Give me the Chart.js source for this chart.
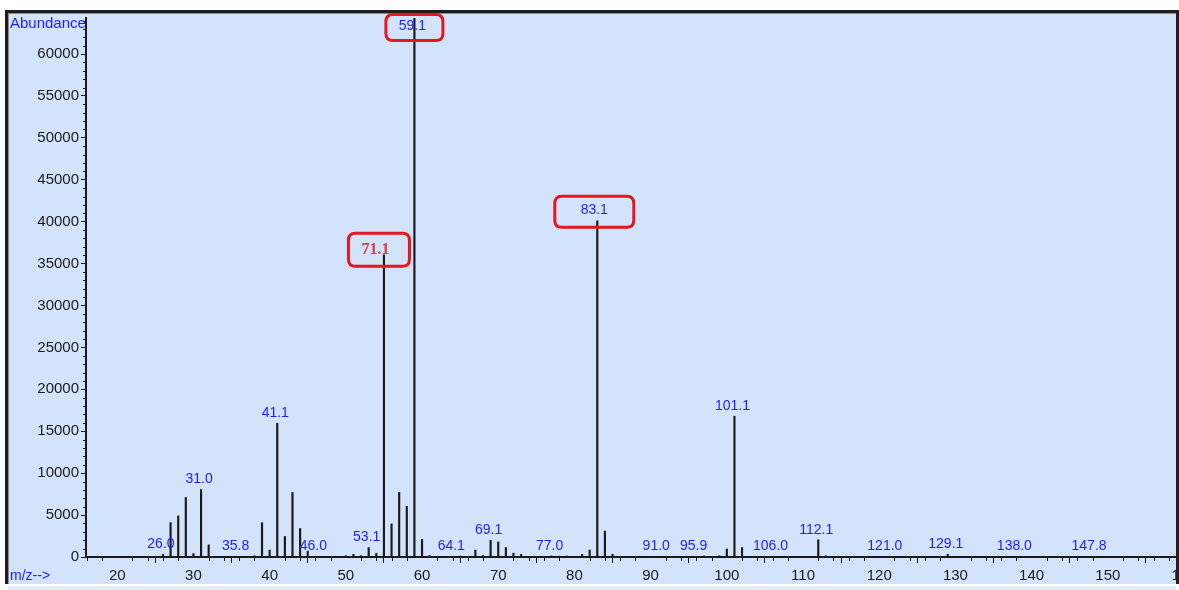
<!DOCTYPE html>
<html>
<head>
<meta charset="utf-8">
<script src="https://cdn.jsdelivr.net/npm/chart.js@4.4.1/dist/chart.umd.min.js"></script>
<style>
  html, body { margin: 0; padding: 0; background: #ffffff; width: 1179px; height: 590px; overflow: hidden; }
  #frame {
    position: absolute; left: 5px; top: 10px; width: 1174px; height: 574px;
    box-sizing: border-box; border: 3px solid #1e1e1e; border-bottom: none;
    background: #d3e3fb; overflow: hidden;
    box-shadow: inset 1px 1px 0 #8c8c8c;
  }
  #strip { position: absolute; left: 8px; top: 586px; width: 1168px; height: 4px; background: #e3ebf7; }
  #spectrum { position: absolute; left: 0; top: 0; }
</style>
</head>
<body>
<div id="frame"><canvas id="spectrum" width="1196" height="571"></canvas></div>
<div id="strip"></div>
<script>
// Mass spectrum: m/z of each ion and its abundance
const mzValues = [
  26, 27, 28, 29, 30, 31, 32, 35.8, 38, 39, 40, 41, 42, 43, 44, 45, 46,
  50, 51, 52, 53, 54, 55, 56, 57, 58, 59, 60, 61, 64.1, 65, 67, 68, 69, 70,
  71, 72, 73, 77, 78, 79, 81, 82, 83, 84, 85, 91, 95.9, 97, 99, 100, 101,
  102, 106, 112, 113, 121, 129, 138, 147.8
];
const abundance = [
  300, 4100, 4900, 7100, 400, 8050, 1450, 60, 150, 4100, 820, 15950, 2450, 7700, 3400, 700, 80,
  150, 320, 150, 1120, 450, 36050, 3950, 7700, 6050, 64300, 2120, 180, 80, 120, 820, 180, 1980, 1800,
  1120, 450, 320, 120, 100, 120, 320, 830, 40100, 3100, 320, 80, 80, 120, 150, 950, 16800,
  1120, 80, 2050, 150, 80, 320, 80, 80
];

// Peak annotations: which peak carries which printed label
const labelMz = [26, 31, 35.8, 41, 46, 53, 55, 59, 64.1, 69, 77, 83, 91, 95.9, 101, 106, 112, 121, 129, 138, 147.8];
const labelText = ['26.0', '31.0', '35.8', '41.1', '46.0', '53.1', '71.1', '59.1', '64.1', '69.1', '77.0',
                   '83.1', '91.0', '95.9', '101.1', '106.0', '112.1', '121.0', '129.1', '138.0', '147.8'];

// Axis tick labels
const xTickValues = [20, 30, 40, 50, 60, 70, 80, 90, 100, 110, 120, 130, 140, 150, 160];
const yTickValues = [0, 5000, 10000, 15000, 20000, 25000, 30000, 35000, 40000, 45000, 50000, 55000, 60000];

const xTitle = 'm/z-->';
const yTitle = 'Abundance';

// Look of the highlighted labels (framed in red)
const labelLook = {
  '59.1': { box: { w: 57, h: 26, dx: 2, dy: 1.5 } },
  '71.1': { color: '#e23a3c', font: 'bold 16px "Liberation Serif"', dx: -8.5, dy: -5,
            box: { w: 61, h: 33, dx: 3.5, dy: 0 } },
  '83.1': { dx: -3, dy: -10.5, box: { w: 79, h: 31, dx: 0, dy: 1.5 } }
};

const FONT = '"Liberation Sans", Arial, sans-serif';
const BLUE = '#1e1eff';

function roundRect(ctx, x, y, w, h, r) {
  ctx.beginPath();
  ctx.moveTo(x + r, y);
  ctx.lineTo(x + w - r, y);
  ctx.quadraticCurveTo(x + w, y, x + w, y + r);
  ctx.lineTo(x + w, y + h - r);
  ctx.quadraticCurveTo(x + w, y + h, x + w - r, y + h);
  ctx.lineTo(x + r, y + h);
  ctx.quadraticCurveTo(x, y + h, x, y + h - r);
  ctx.lineTo(x, y + r);
  ctx.quadraticCurveTo(x, y, x + r, y);
  ctx.closePath();
}

const minorTicks = {
  id: 'minorTicks',
  afterDraw(chart) {
    const { ctx, chartArea: a, scales: { x, y } } = chart;
    ctx.save();
    ctx.strokeStyle = '#1a1a1a';
    ctx.lineWidth = 1;
    ctx.beginPath();
    for (let v = 16; v <= 160; v += 2) {
      if (v % 10 === 0) continue;
      const px = Math.round(x.getPixelForValue(v)) + 0.5;
      ctx.moveTo(px, a.bottom);
      ctx.lineTo(px, a.bottom + 4);
    }
    for (let v = 1000; v <= 64000; v += 1000) {
      if (v % 5000 === 0) continue;
      const py = Math.round(y.getPixelForValue(v)) + 0.5;
      ctx.moveTo(a.left - 3, py);
      ctx.lineTo(a.left, py);
    }
    ctx.stroke();
    ctx.restore();
  }
};

const peakLabels = {
  id: 'peakLabels',
  afterDatasetsDraw(chart) {
    const { ctx, chartArea: a, scales: { x, y } } = chart;
    ctx.save();
    ctx.textAlign = 'center';
    ctx.textBaseline = 'middle';
    labelMz.forEach((mz, i) => {
      const text = labelText[i];
      const v = abundance[mzValues.indexOf(mz)];
      const look = labelLook[text] || {};
      const px = x.getPixelForValue(mz) + (look.dx ?? -2);
      const py = Math.max(y.getPixelForValue(v) + (look.dy ?? -10), a.top + 8);
      ctx.font = look.font || ('14px ' + FONT);
      ctx.fillStyle = look.color || BLUE;
      ctx.fillText(text, px, py);
      if (look.box) {
        const b = look.box;
        ctx.strokeStyle = '#e8161e';
        ctx.lineWidth = 3;
        roundRect(ctx, px + b.dx - b.w / 2, py + b.dy - b.h / 2, b.w, b.h, 7);
        ctx.stroke();
      }
    });
    ctx.restore();
  }
};

const axisTitles = {
  id: 'axisTitles',
  afterDraw(chart) {
    const ctx = chart.ctx;
    ctx.save();
    ctx.fillStyle = BLUE;
    ctx.textAlign = 'left';
    ctx.textBaseline = 'middle';
    ctx.font = '15px ' + FONT;
    ctx.fillText(yTitle, 2, 11);
    ctx.font = '14px ' + FONT;
    ctx.fillText(xTitle, 2, 563);
    ctx.restore();
  }
};

new Chart(document.getElementById('spectrum'), {
  type: 'bar',
  data: {
    datasets: [{
      data: mzValues.map((m, i) => ({ x: m, y: abundance[i] })),
      backgroundColor: '#1a1a1a',
      borderWidth: 0,
      barThickness: 1.5
    }]
  },
  options: {
    responsive: false,
    animation: false,
    devicePixelRatio: 1,
    layout: { padding: { left: 0, top: 5, right: 20, bottom: 0 } },
    plugins: { legend: { display: false }, tooltip: { enabled: false } },
    scales: {
      x: {
        type: 'linear',
        offset: false,
        min: 15.9,
        max: 160,
        afterBuildTicks: s => { s.ticks = xTickValues.map(v => ({ value: v })); },
        afterFit: s => { s.height = 27; s.paddingLeft = 0; s.paddingRight = 0; },
        grid: { display: true, drawOnChartArea: false, drawTicks: true, tickLength: 6, color: '#1a1a1a', lineWidth: 1 },
        border: { display: true, color: '#1a1a1a', width: 2 },
        ticks: { autoSkip: false, maxRotation: 0, padding: 4, color: '#1a1a1a',
                 font: { family: FONT, size: 15 }, callback: v => String(v) }
      },
      y: {
        min: 0,
        max: 64300,
        afterBuildTicks: s => { s.ticks = yTickValues.map(v => ({ value: v })); },
        afterFit: s => { s.width = 78; s.paddingTop = 0; s.paddingBottom = 0; },
        grid: { display: true, drawOnChartArea: false, drawTicks: true, tickLength: 5, color: '#1a1a1a', lineWidth: 1 },
        border: { display: true, color: '#1a1a1a', width: 2 },
        ticks: { autoSkip: false, padding: 2, color: '#1a1a1a',
                 font: { family: FONT, size: 15 }, callback: v => String(v) }
      }
    }
  },
  plugins: [minorTicks, peakLabels, axisTitles]
});
</script>
</body>
</html>
